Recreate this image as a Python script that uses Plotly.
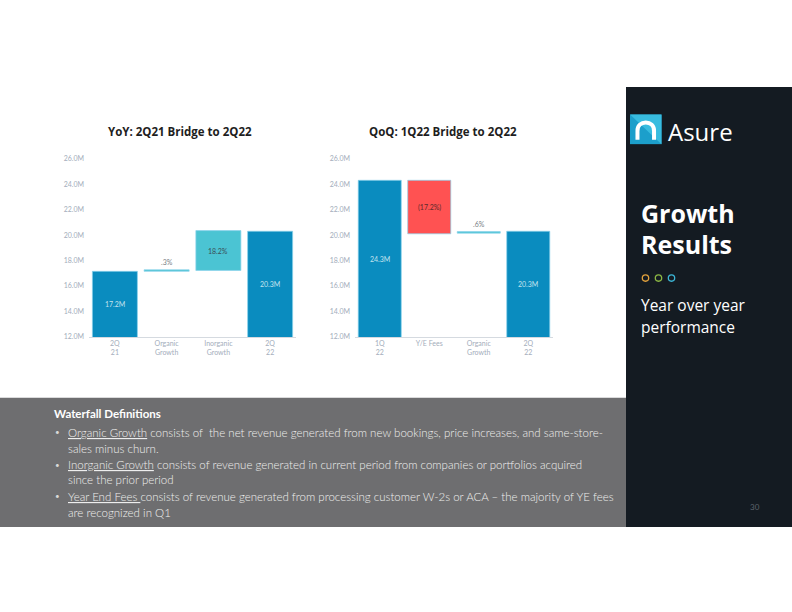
import plotly.graph_objects as go

# ---------------- data ----------------
yoy_categories = ["2Q<br>21", "Organic<br>Growth", "Inorganic<br>Growth", "2Q<br>22"]
yoy_base = [0, 17.15, 17.22, 0]
yoy_top = [17.15, 17.27, 20.35, 20.3]
yoy_labels = ["17.2M", ".3%", "18.2%", "20.3M"]
yoy_kind = ["total", "thin", "step", "total"]

qoq_categories = ["1Q<br>22", "Y/E Fees", "Organic<br>Growth", "2Q<br>22"]
qoq_base = [0, 20.1, 20.15, 0]
qoq_top = [24.3, 24.3, 20.27, 20.3]
qoq_labels = ["24.3M", "(17.2%)", ".6%", "20.3M"]
qoq_kind = ["total", "neg", "thin", "total"]

y_range = [12, 26]
y_tickvals = [12, 14, 16, 18, 20, 22, 24, 26]
y_ticktext = ["12.0M", "14.0M", "16.0M", "18.0M", "20.0M", "22.0M", "24.0M", "26.0M"]

chart_titles = ["YoY: 2Q21 Bridge to 2Q22", "QoQ: 1Q22 Bridge to 2Q22"]

definitions_title = "Waterfall Definitions"
definitions = [
    ("Organic Growth", " consists of  the net revenue generated from new bookings, price increases, and same-store-", "sales minus churn."),
    ("Inorganic Growth", " consists of revenue generated in current period from companies or portfolios acquired", "since the prior period"),
    ("Year End Fees ", "consists of revenue generated from processing customer W-2s or ACA \u2013 the majority of YE fees", "are recognized in Q1"),
]

# ---------------- styles ----------------
W, H = 792, 612
def px(x):
    return x / W
def py(y):
    return 1 - y / H

COL = {"total": "#0A8CBF", "step": "#4BC4D3", "thin": "#4BC4D3", "neg": "#FF5252"}
TXT = {"total": "#c4e2ee", "step": "#3a5058", "neg": "#5b2b2b", "thin": "#7a7f86"}
TICK_FONT = dict(family="Lato", size=7, color="#a3adbb")

fig = go.Figure()

def add_chart(cats, base, top, labels, kinds, xa, ya):
    heights = [t - b for t, b in zip(top, base)]
    fig.add_trace(go.Bar(
        x=cats, y=heights, base=base,
        marker=dict(color=[COL[k] for k in kinds],
                    line=dict(color="rgba(140,210,235,0.9)", width=0.8)),
        xaxis=xa, yaxis=ya, hoverinfo="skip", showlegend=False,
    ))
    for c, b, t, lab, k in zip(cats, base, top, labels, kinds):
        if k == "thin":
            fig.add_annotation(x=c, y=t, xref=xa, yref=ya, text=lab, showarrow=False,
                               yanchor="bottom", yshift=2,
                               font=dict(family="Lato", size=7, color=TXT[k]))
        else:
            lo = max(b, y_range[0])
            fig.add_annotation(x=c, y=(lo + t) / 2, xref=xa, yref=ya, text=lab, showarrow=False,
                               font=dict(family="Lato", size=7, color=TXT[k]))

add_chart(yoy_categories, yoy_base, yoy_top, yoy_labels, yoy_kind, "x", "y")
add_chart(qoq_categories, qoq_base, qoq_top, qoq_labels, qoq_kind, "x2", "y2")

ydom = [py(336.3), py(155.7)]
xcommon = dict(showline=True, linecolor="#d5dae0", linewidth=1, ticks="", showgrid=False,
               tickfont=TICK_FONT, fixedrange=True)
ycommon = dict(range=y_range, tickvals=y_tickvals, ticktext=y_ticktext, showgrid=False,
               zeroline=False, showline=False, ticks="", tickfont=TICK_FONT, domain=ydom,
               ticklabelstandoff=4)

fig.update_layout(
    width=W, height=H, margin=dict(l=0, r=0, t=0, b=0),
    paper_bgcolor="white", plot_bgcolor="rgba(0,0,0,0)",
    bargap=0.13,
    xaxis=dict(domain=[px(89), px(296)], anchor="y", **xcommon),
    yaxis=dict(anchor="x", **ycommon),
    xaxis2=dict(domain=[px(355), px(553)], anchor="y2", **xcommon),
    yaxis2=dict(anchor="x2", **ycommon),
)

# chart titles
for cx, t in zip([180, 443], chart_titles):
    fig.add_annotation(x=px(cx), y=py(128), xref="paper", yref="paper", text="<b>%s</b>" % t,
                       showarrow=False, xanchor="center", yanchor="middle",
                       font=dict(family="Open Sans", size=11.5, color="#1e1e1e"))

# ---------------- slide decorations ----------------
def path_of(points, closed=False):
    s = "M %.4f %.4f" % (px(points[0][0]), py(points[0][1]))
    for p in points[1:]:
        s += " L %.4f %.4f" % (px(p[0]), py(p[1]))
    if closed:
        s += " Z"
    return s

shapes = []
# gray definitions band
shapes.append(dict(type="rect", xref="paper", yref="paper", x0=0, x1=px(626), y0=py(529), y1=py(398),
                   fillcolor="#6e6e70", line=dict(width=0), layer="below"))
# dark side panel
shapes.append(dict(type="rect", xref="paper", yref="paper", x0=px(626), x1=1, y0=py(529), y1=py(83),
                   fillcolor="#141b22", line=dict(width=0), layer="below"))
# logo square (two tones split on the diagonal)
shapes.append(dict(type="rect", xref="paper", yref="paper", x0=px(630), x1=px(661.5), y0=py(141), y1=py(111),
                   fillcolor="#1c9fcb", line=dict(width=0)))
shapes.append(dict(type="path", xref="paper", yref="paper",
                   path=path_of([(630, 111), (661.5, 111), (661.5, 141)], closed=True),
                   fillcolor="#38bcdf", line=dict(width=0)))
pts = [(637.5, 136.5), (637.5, 128), (636.5, 116), (655, 116), (654, 128), (654, 136.5)]
path = "M %.4f %.4f L %.4f %.4f C %.4f %.4f %.4f %.4f %.4f %.4f L %.4f %.4f" % (
    px(pts[0][0]), py(pts[0][1]), px(pts[1][0]), py(pts[1][1]),
    px(pts[2][0]), py(pts[2][1]), px(pts[3][0]), py(pts[3][1]), px(pts[4][0]), py(pts[4][1]),
    px(pts[5][0]), py(pts[5][1]))
shapes.append(dict(type="path", xref="paper", yref="paper", path=path,
                   line=dict(color="white", width=4)))
# three small circles
for cxp, col in zip([645.5, 658.5, 671.5], ["#e3a23c", "#8cb844", "#3cb6d6"]):
    r = 3.2
    shapes.append(dict(type="circle", xref="paper", yref="paper", x0=px(cxp - r), x1=px(cxp + r),
                       y0=py(276.7 + r), y1=py(276.7 - r), line=dict(color=col, width=1.3)))
fig.update_layout(shapes=shapes)

def ptext(x, y, text, size, color, family="Open Sans", xanchor="left", weight=None):
    font = dict(family=family, size=size, color=color)
    if weight:
        font["weight"] = weight
    fig.add_annotation(x=px(x), y=py(y), xref="paper", yref="paper", text=text, showarrow=False,
                       xanchor=xanchor, yanchor="middle", align="left", font=font)

ptext(666, 128, "Asure", 24, "white")
ptext(639, 211, "<b>Growth</b>", 25, "white")
ptext(639, 242, "<b>Results</b>", 25, "white")
ptext(639, 304, "Year over year", 15.5, "white")
ptext(639, 326, "performance", 15.5, "white")
ptext(755, 509, "30", 8, "#5d636b", family="Lato", xanchor="center")

ptext(52, 414, "<b>%s</b>" % definitions_title, 11.5, "white", family="Lato")
line_y = [(433, 449), (466, 481), (498, 514)]
for (term, rest, cont), (y1, y2) in zip(definitions, line_y):
    ptext(53, y1, "\u2022", 8, "#d8d8d8", family="Lato")
    ptext(66, y1, "<u>%s</u>%s" % (term, rest), 11.5, "#eeeeee", family="Lato", weight=300)
    ptext(66, y2, cont, 11.5, "#eeeeee", family="Lato", weight=300)

fig.write_html("out.html")
